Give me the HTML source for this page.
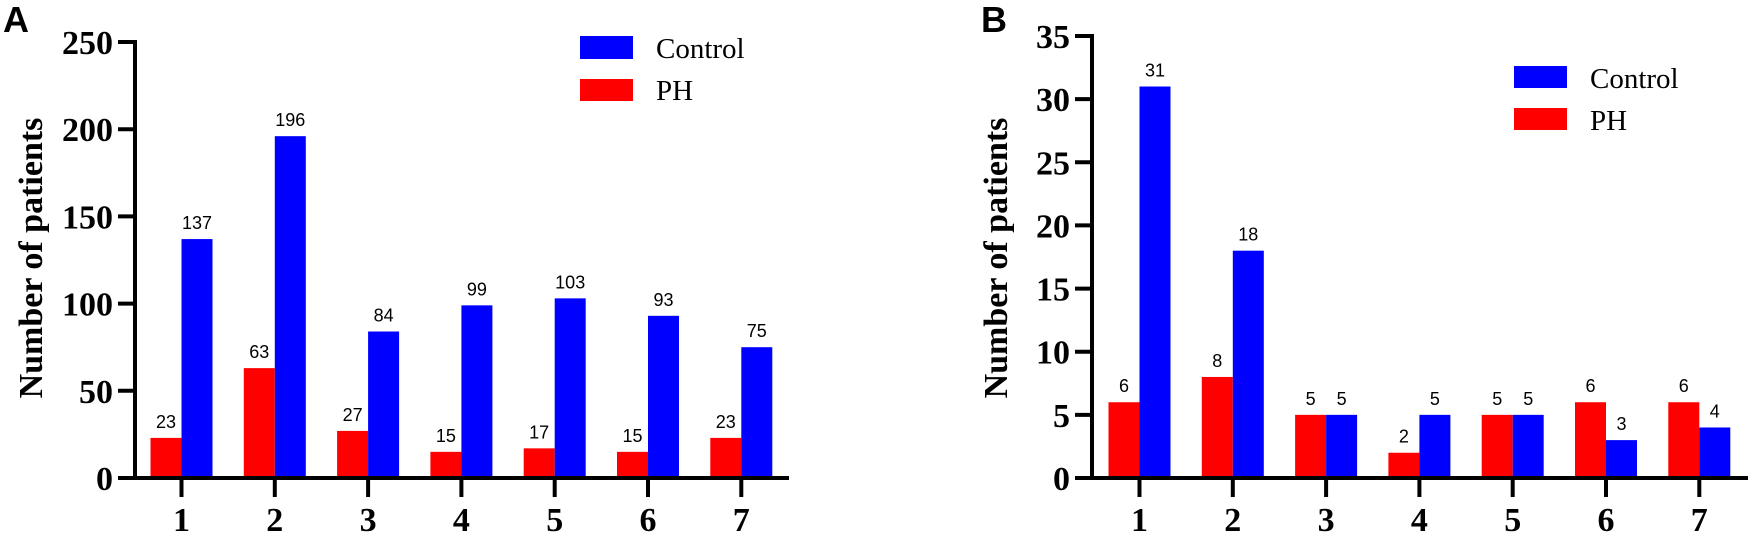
<!DOCTYPE html>
<html><head><meta charset="utf-8"><style>
html,body{margin:0;padding:0;background:#fff;}
svg{display:block;}
.t{font-family:"Liberation Serif",serif;font-weight:bold;font-size:34px;fill:#000;}
.v{font-family:"Liberation Sans",sans-serif;font-size:18px;fill:#000;text-anchor:middle;}
.lg{font-family:"Liberation Serif",serif;font-size:29px;fill:#000;}
.p{font-family:"Liberation Sans",sans-serif;font-weight:bold;font-size:36px;fill:#000;}
</style></head><body>
<svg width="1748" height="534" viewBox="0 0 1748 534" xmlns="http://www.w3.org/2000/svg">
<text class="p" x="3" y="32">A</text>
<text class="p" x="981" y="32">B</text>
<text class="t" transform="translate(42,258) rotate(-90)" text-anchor="middle">Number of patients</text>
<text class="t" transform="translate(1007,258) rotate(-90)" text-anchor="middle">Number of patients</text>
<g id="A"></g>
<g id="B"></g>
<rect x="580" y="36" width="53" height="23" fill="#0000ff"/>
<rect x="580" y="79" width="53" height="22" fill="#ff0000"/>
<text class="lg" x="656" y="58">Control</text>
<text class="lg" x="656" y="100">PH</text>
<rect x="1514" y="66" width="53" height="22" fill="#0000ff"/>
<rect x="1514" y="108" width="53" height="22" fill="#ff0000"/>
<text class="lg" x="1590" y="88">Control</text>
<text class="lg" x="1590" y="130">PH</text>
</svg>
<script>
function build(id,ax,c0,zero,ppu,step,max,red,blue,xend){
 var g=document.getElementById(id),s='';
 for(var i=0;i<7;i++){
  var c=c0+93.3*i;
  var hr=red[i]*ppu,hb=blue[i]*ppu;
  s+='<rect x="'+(c-31)+'" y="'+(zero-hr)+'" width="31" height="'+hr+'" fill="#ff0000"/>';
  s+='<rect x="'+c+'" y="'+(zero-hb)+'" width="31" height="'+hb+'" fill="#0000ff"/>';
  s+='<text class="v" x="'+(c-15.5)+'" y="'+(zero-hr-10)+'">'+red[i]+'</text>';
  s+='<text class="v" x="'+(c+15.5)+'" y="'+(zero-hb-10)+'">'+blue[i]+'</text>';
  s+='<line x1="'+c+'" y1="'+zero+'" x2="'+c+'" y2="497" stroke="#000" stroke-width="4"/>';
  s+='<text class="t" x="'+c+'" y="531" text-anchor="middle">'+(i+1)+'</text>';
 }
 for(var v=0;v<=max;v+=step){
  var y=zero-v*ppu;
  s+='<line x1="'+(ax-17)+'" y1="'+y+'" x2="'+ax+'" y2="'+y+'" stroke="#000" stroke-width="4"/>';
  s+='<text class="t" x="'+(ax-22)+'" y="'+(y+12)+'" text-anchor="end">'+v+'</text>';
 }
 s+='<line x1="'+ax+'" y1="'+(zero-max*ppu-2)+'" x2="'+ax+'" y2="'+zero+'" stroke="#000" stroke-width="4"/>';
 s+='<line x1="'+(ax-17)+'" y1="'+zero+'" x2="'+xend+'" y2="'+zero+'" stroke="#000" stroke-width="4"/>';
 g.innerHTML=s;
}
build('A',135,181.5,478,436/250,50,250,[23,63,27,15,17,15,23],[137,196,84,99,103,93,75],789);
build('B',1092,1139.5,478,442/35,5,35,[6,8,5,2,5,6,6],[31,18,5,5,5,3,4],1748);
</script>
</body></html>
